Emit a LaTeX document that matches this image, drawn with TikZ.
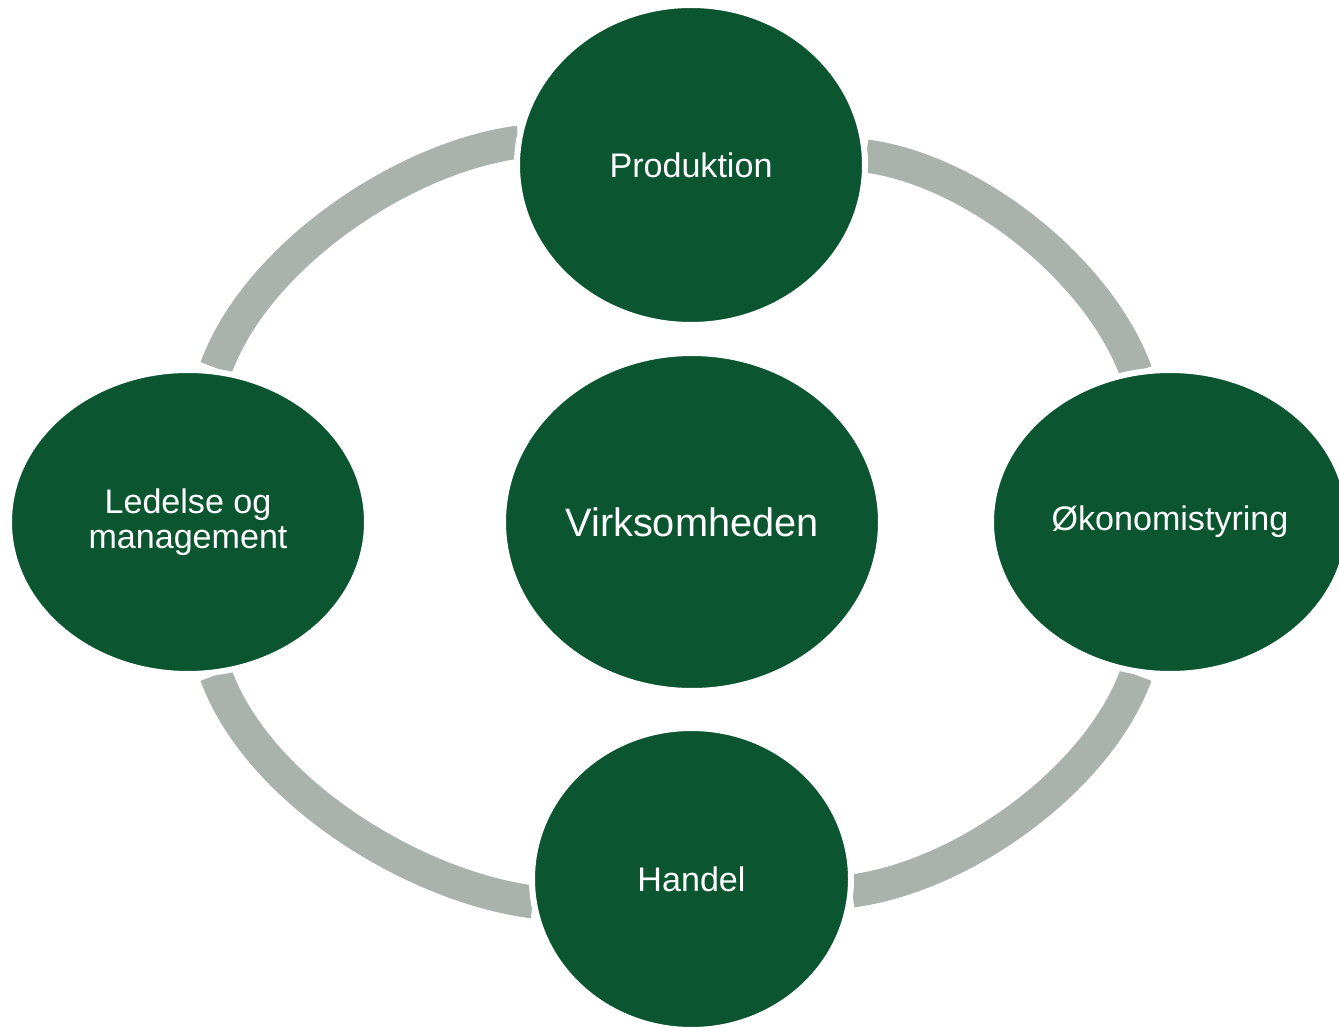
\documentclass[tikz,border=0pt]{standalone}
\usepackage{fontspec}
\setmainfont{Liberation Sans}
\usetikzlibrary{shapes.geometric}
\definecolor{firmgreen}{RGB}{11,86,48}
\definecolor{ringgray}{RGB}{169,179,172}

\begin{document}
\begin{tikzpicture}[
    blob/.style={ellipse, fill=firmgreen, draw=white, line width=0.6mm,
                 text=white, inner sep=0pt, align=center,
                 font=\fontsize{9.7}{10}\selectfont},
    ringarc/.style={draw=ringgray, line width=3.3mm, looseness=0.8},
]
  \useasboundingbox (0,0) rectangle (13.39,10.27);

  % Ring end points
  \coordinate (lead-n) at (2.16,6.59);
  \coordinate (prod-w) at (5.19,8.85);
  \coordinate (prod-e) at (8.66,8.71);
  \coordinate (econ-n) at (11.36,6.55);
  \coordinate (econ-s) at (11.36,3.52);
  \coordinate (trade-e) at (8.52,1.36);
  \coordinate (trade-w) at (5.33,1.25);
  \coordinate (lead-s) at (2.16,3.52);

  % Ring segments
  \draw[ringarc] (lead-n) to[out=70, in=187.5] (prod-w);
  \draw[ringarc] (prod-e) to[out=-7.5, in=110] (econ-n);
  \draw[ringarc] (econ-s) to[out=-110, in=7.5] (trade-e);
  \draw[ringarc] (trade-w) to[out=172.5, in=-70] (lead-s);

  % Nodes
  \node[blob, minimum width=3.78cm, minimum height=3.38cm,
        font=\fontsize{11.3}{13}\selectfont] (firm) at (6.92,5.05)
    {Virksomheden};
  \node[blob, minimum width=3.48cm, minimum height=3.20cm] (prod) at (6.91,8.62)
    {Produktion};
  \node[blob, minimum width=3.58cm, minimum height=3.04cm] (lead) at (1.88,5.05)
    {Ledelse og\\management};
  \node[blob, minimum width=3.58cm, minimum height=3.04cm] (econ) at (11.70,5.05)
    {Økonomistyring};
  \node[blob, minimum width=3.19cm, minimum height=3.02cm] (trade) at (6.915,1.48)
    {Handel};
\end{tikzpicture}
\end{document}
